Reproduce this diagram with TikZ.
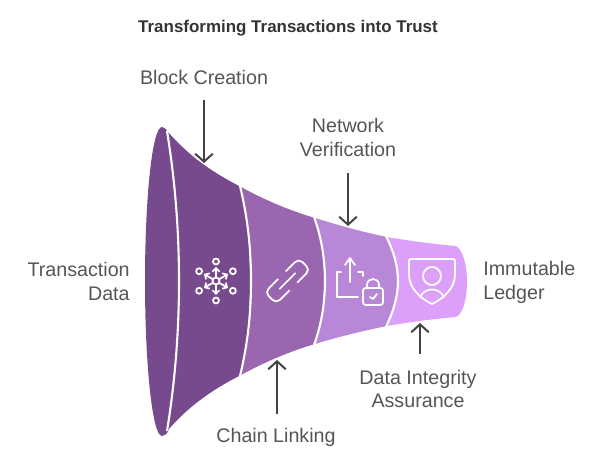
\documentclass[tikz,border=0pt]{standalone}
\usepackage{fontspec}
\setmainfont{Liberation Sans}
\usetikzlibrary{arrows.meta}
\definecolor{funnelA}{HTML}{764A8C}
\definecolor{funnelB}{HTML}{9A66B0}
\definecolor{funnelC}{HTML}{B987D8}
\definecolor{funnelD}{HTML}{DDA0FA}
\definecolor{labelgrey}{HTML}{555555}
\definecolor{arrowgrey}{HTML}{444444}
\tikzset{
  label/.style={text=labelgrey,font=\fontsize{11.2}{13.6}\selectfont,inner sep=0pt},
  pointer/.style={draw=arrowgrey,line width=1.15pt,-{Straight Barb[length=4.5pt,width=10pt,line width=1.15pt]}},
  divider/.style={draw=white,line width=1.2pt},
  icon/.style={draw=white,line width=1pt,line cap=round,line join=round}
}
\begin{document}
\begin{tikzpicture}[x=0.02cm,y=-0.02cm]
  \useasboundingbox (0,0) rectangle (600,462);
  % funnel bands
  \fill[funnelA] (162,127) .. controls (152,127) and (145,200) .. (145,281)
    .. controls (145,362) and (152,436) .. (162,436)
    .. controls (165,436) and (167,434) .. (169,429)
    .. controls (190,405) and (212,390) .. (241,375)
    -- (241,187) .. controls (212,172) and (190,157) .. (168,132)
    .. controls (166,129) and (164,127) .. (162,127) -- cycle;
  \fill[funnelA] (241,187) .. controls (247,215) and (250,245) .. (250,281)
    .. controls (250,317) and (247,347) .. (241,375) -- cycle;
  \fill[funnelB] (241,187) .. controls (265,200) and (288,210) .. (315,218)
    .. controls (321,236) and (324,258) .. (324,281)
    .. controls (324,304) and (321,326) .. (315,344)
    .. controls (288,352) and (265,362) .. (241,375)
    .. controls (247,347) and (250,317) .. (250,281)
    .. controls (250,245) and (247,215) .. (241,187) -- cycle;
  \fill[funnelC] (315,218) .. controls (338,225) and (362,232) .. (387,237)
    .. controls (393,250) and (397,265) .. (397,281)
    .. controls (397,297) and (393,312) .. (387,326)
    .. controls (362,331) and (338,337) .. (315,344)
    .. controls (321,326) and (324,304) .. (324,281)
    .. controls (324,258) and (321,236) .. (315,218) -- cycle;
  \fill[funnelD] (387,237) .. controls (410,241) and (433,244) .. (456,246)
    .. controls (463,250) and (467,265) .. (467,282)
    .. controls (467,299) and (463,314) .. (456,317)
    .. controls (433,319) and (410,322) .. (387,326)
    .. controls (393,312) and (397,297) .. (397,281)
    .. controls (397,265) and (393,250) .. (387,237) -- cycle;
  \draw[divider] (167,131) .. controls (175,180) and (179,230) .. (179,281)
    .. controls (179,332) and (175,382) .. (167,431);
  \draw[divider] (240,186) .. controls (247,215) and (251,245) .. (251,281)
    .. controls (251,317) and (247,347) .. (240,376);
  \draw[divider] (314,217) .. controls (321,236) and (325,258) .. (325,281)
    .. controls (325,304) and (321,326) .. (314,345);
  \draw[divider] (386,236) .. controls (393,250) and (398,265) .. (398,281)
    .. controls (398,297) and (393,312) .. (386,327);
  % network icon
  \foreach \a in {30,90,...,330} {
    \draw[icon] (216,281)++(\a:19.5) circle (3);
    \draw[icon,-{Straight Barb[length=2pt,width=4pt]}] (216,281)++(\a:4) -- ++(\a:10);
  }
  \draw[icon] (216,281) circle (3.5);
  % chain icon
  \begin{scope}[shift={(287.5,281)},rotate=45]
    \draw[icon,rounded corners=3] (-5.5,-8) -- (-24,-8) -- (-24,8) -- (-5.5,8);
    \draw[icon,rounded corners=3] (6,8) -- (24,8) -- (24,-8) -- (6,-8);
    \draw[icon] (-11,0) -- (11,0);
  \end{scope}
  % upload and lock icon
  \draw[icon] (341,272) -- (337,272) -- (337,297) -- (358,297);
  \draw[icon] (358,272) -- (363,272) -- (363,276);
  \draw[icon] (350,282) -- (350,258) (345,265) -- (350,258) -- (355,265);
  \draw[icon,rounded corners=1.5] (363,288) rectangle (383,305);
  \draw[icon] (367,288) -- (367,285) .. controls (367,277) and (379,277) .. (379,285) -- (379,288);
  \draw[icon] (370,297) -- (373,299) -- (377,294);
  % shield icon
  \draw[icon] (411,259) -- (453,259) .. controls (455,259) and (455,260) .. (455,262) -- (455,275)
    .. controls (455,288) and (443,299) .. (432,304)
    .. controls (421,299) and (409,288) .. (409,275) -- (409,262)
    .. controls (409,260) and (409,259) .. (411,259) -- cycle;
  \draw[icon] (432,276) circle (9);
  \draw[icon] (420,297) .. controls (425,287) and (439,287) .. (444,297);
  % labels
  \node[font=\bfseries\fontsize{9.65}{13.6}\selectfont,text=black!80,inner sep=0pt] (title) at (288,28) {Transforming Transactions into Trust};
  \node[label] (block) at (204,77) {Block Creation};
  \node[label,align=center] (network) at (348,137.5) {Network\\Verification};
  \node[label,align=right,anchor=east] (transaction) at (130,281.5) {Transaction\\Data};
  \node[label,align=left,anchor=west] (ledger) at (483,282) {Immutable\\Ledger};
  \node[label,align=center] (assurance) at (418,389) {Data Integrity\\Assurance};
  \node[label] (chain) at (276,437) {Chain Linking};
  % pointers
  \coordinate (blockA) at (204,100);
  \coordinate (blockB) at (204,163);
  \coordinate (networkA) at (348,173);
  \coordinate (networkB) at (348,226);
  \coordinate (chainA) at (277,414);
  \coordinate (chainB) at (277,360);
  \coordinate (assuranceA) at (420,354);
  \coordinate (assuranceB) at (420,323);
  \draw[pointer] (blockA) -- (blockB);
  \draw[pointer] (networkA) -- (networkB);
  \draw[pointer] (chainA) -- (chainB);
  \draw[pointer] (assuranceA) -- (assuranceB);
\end{tikzpicture}
\end{document}
